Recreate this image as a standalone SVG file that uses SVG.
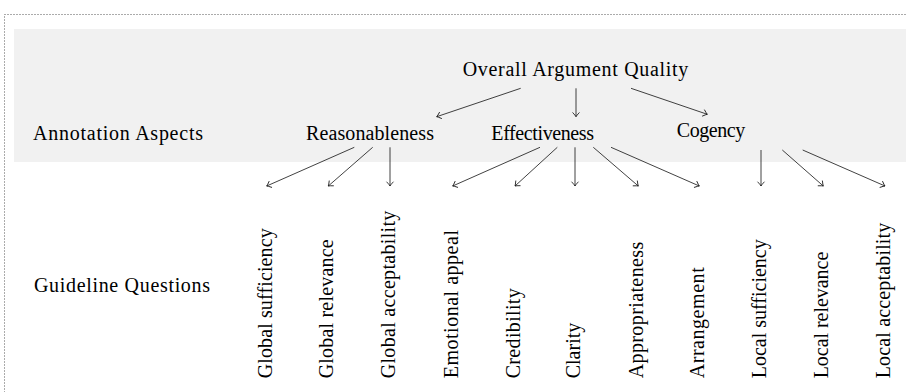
<svg xmlns="http://www.w3.org/2000/svg" width="907" height="392" viewBox="0 0 907 392">
  <style>
    text { font-family: "Liberation Serif", "Times New Roman", serif; font-size: 20px; fill: #000; }
    .edge { stroke: #111; stroke-width: 0.8; fill: none; marker-end: url(#tip); }
    .frame { fill: none; stroke: #444; stroke-width: 0.9; stroke-dasharray: 1 2; }
  </style>
  <defs>
    <marker id="tip" markerUnits="userSpaceOnUse" markerWidth="10" markerHeight="10" refX="0" refY="0" viewBox="-6 -5 8 10" orient="auto" overflow="visible">
      <path d="M -4 -3.2 Q -1.2 -0.6 0 0 Q -1.2 0.6 -4 3.2" fill="none" stroke="#111" stroke-width="0.8" stroke-linecap="round"/>
    </marker>
  </defs>

  <!-- page frame and the shaded aspect band -->
  <rect class="frame" x="4.5" y="14.5" width="1000" height="500"/>
  <rect x="14" y="29" width="892" height="133" fill="#f1f1f1"/>

  <!-- row titles -->
  <g id="row-aspects"><text x="33" y="139.5" textLength="170">Annotation Aspects</text></g>
  <g id="row-questions"><text x="34" y="292" textLength="176">Guideline Questions</text></g>

  <!-- aspect nodes -->
  <g id="overall"><text x="575.5" y="75.5" text-anchor="middle" textLength="225.6">Overall Argument Quality</text></g>
  <g id="reasonableness"><text x="370" y="139.5" text-anchor="middle" textLength="128">Reasonableness</text></g>
  <g id="effectiveness"><text x="542.7" y="139.5" text-anchor="middle" textLength="102.7">Effectiveness</text></g>
  <g id="cogency"><text x="711" y="137" text-anchor="middle" textLength="68.3">Cogency</text></g>

  <!-- guideline question nodes, written bottom to top -->
  <g id="global-sufficiency"><text transform="translate(271.7,378.3) rotate(-90)" textLength="150">Global sufficiency</text></g>
  <g id="global-relevance"><text transform="translate(333.3,378.3) rotate(-90)" textLength="139">Global relevance</text></g>
  <g id="global-acceptability"><text transform="translate(395,378.3) rotate(-90)" textLength="167.6">Global acceptability</text></g>
  <g id="emotional-appeal"><text transform="translate(457.7,378.3) rotate(-90)" textLength="148.3">Emotional appeal</text></g>
  <g id="credibility"><text transform="translate(520,378.3) rotate(-90)" textLength="90">Credibility</text></g>
  <g id="clarity"><text transform="translate(580,378.3) rotate(-90)" textLength="55.6">Clarity</text></g>
  <g id="appropriateness"><text transform="translate(643.3,378.3) rotate(-90)" textLength="136.6">Appropriateness</text></g>
  <g id="arrangement"><text transform="translate(704.3,378.3) rotate(-90)" textLength="111">Arrangement</text></g>
  <g id="local-sufficiency"><text transform="translate(766,378.3) rotate(-90)" textLength="139">Local sufficiency</text></g>
  <g id="local-relevance"><text transform="translate(828.3,378.3) rotate(-90)" textLength="126.6">Local relevance</text></g>
  <g id="local-acceptability"><text transform="translate(890,378.3) rotate(-90)" textLength="155.6">Local acceptability</text></g>

  <!-- connectors -->
  <g id="connectors">
    <line class="edge" x1="520.7" y1="88.3" x2="436.7" y2="116.7"/>
    <line class="edge" x1="576" y1="88.3" x2="576" y2="116.7"/>
    <line class="edge" x1="631" y1="88.3" x2="707.3" y2="114.3"/>

    <line class="edge" x1="354.3" y1="147.3" x2="266.7" y2="186"/>
    <line class="edge" x1="372.7" y1="147.3" x2="328.3" y2="186"/>
    <line class="edge" x1="390" y1="147.3" x2="390" y2="186"/>

    <line class="edge" x1="540" y1="147.3" x2="452.7" y2="186"/>
    <line class="edge" x1="557.3" y1="147.3" x2="515" y2="186"/>
    <line class="edge" x1="575" y1="147.3" x2="575" y2="186"/>
    <line class="edge" x1="593.3" y1="147.3" x2="638.3" y2="186"/>
    <line class="edge" x1="611" y1="147.3" x2="699.3" y2="186"/>

    <line class="edge" x1="761" y1="150" x2="761" y2="186"/>
    <line class="edge" x1="782.3" y1="150" x2="823.3" y2="186"/>
    <line class="edge" x1="802.7" y1="150" x2="885" y2="186"/>
  </g>
</svg>
